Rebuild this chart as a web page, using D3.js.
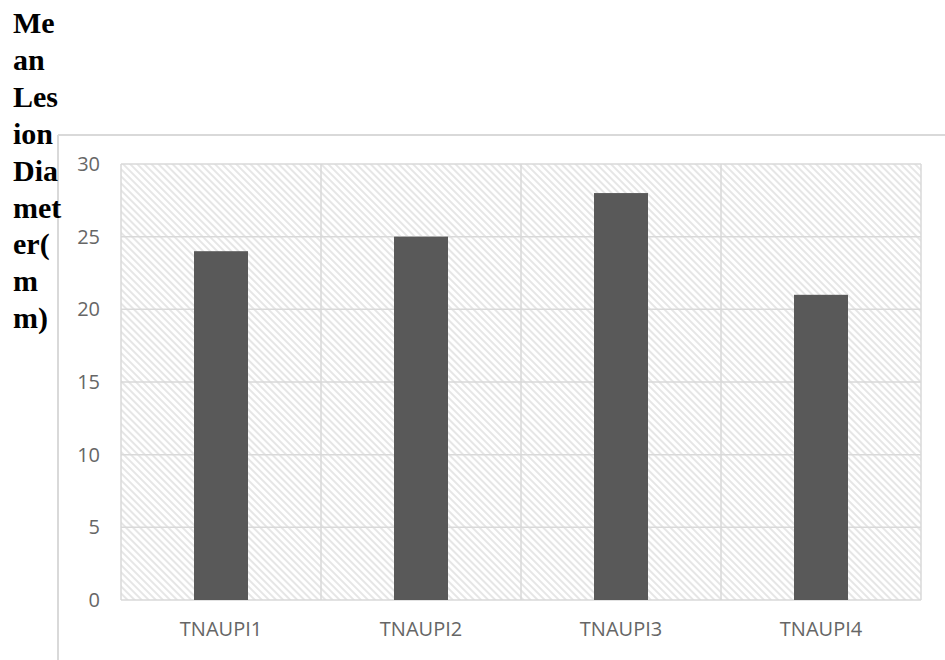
<!DOCTYPE html>
<html>
<head>
<meta charset="utf-8">
<script src="https://cdn.jsdelivr.net/npm/d3@7/dist/d3.min.js"></script>
<style>
  html, body { margin: 0; padding: 0; background: #fff; }
  svg { display: block; }
</style>
</head>
<body>
<script>
// Mean lesion diameter per isolate
const categories = ["TNAUPI1", "TNAUPI2", "TNAUPI3", "TNAUPI4"];
const meanDiameter = [24, 25, 28, 21];
const yTicks = [0, 5, 10, 15, 20, 25, 30];
const titleLines = ["Me", "an", "Les", "ion", "Dia", "met", "er(", "m", "m)"];

const W = 945, H = 660;
const plot = { left: 121, right: 921, top: 164, bottom: 600 };

const svg = d3.select("body").append("svg")
  .attr("width", W).attr("height", H);

// Diagonal hatch fill for the plot background
const defs = svg.append("defs");
const pat = defs.append("pattern")
  .attr("id", "hatch")
  .attr("patternUnits", "userSpaceOnUse")
  .attr("width", 5).attr("height", 5)
  .attr("patternTransform", "rotate(-45)");
pat.append("rect").attr("width", 5).attr("height", 5).attr("fill", "#ffffff");
pat.append("rect").attr("width", 2).attr("height", 5).attr("fill", "#e6e6e6");

// Chart frame (top and left edges)
svg.append("line")
  .attr("x1", 58).attr("x2", W).attr("y1", 135).attr("y2", 135)
  .attr("stroke", "#d9d9d9").attr("stroke-width", 2);
svg.append("line")
  .attr("x1", 58).attr("x2", 58).attr("y1", 135).attr("y2", H)
  .attr("stroke", "#d9d9d9").attr("stroke-width", 2);

const x = d3.scaleBand().domain(categories)
  .range([plot.left, plot.right]).paddingInner(0).paddingOuter(0);
const y = d3.scaleLinear().domain([0, 30]).range([plot.bottom, plot.top]);

svg.append("rect")
  .attr("x", plot.left).attr("y", plot.top)
  .attr("width", plot.right - plot.left).attr("height", plot.bottom - plot.top)
  .attr("fill", "url(#hatch)");

// Horizontal gridlines
svg.append("g").selectAll("line").data(yTicks).join("line")
  .attr("x1", plot.left).attr("x2", plot.right)
  .attr("y1", d => y(d)).attr("y2", d => y(d))
  .attr("stroke", "#d9d9d9").attr("stroke-width", 1.5);

// Vertical category separators
const seps = categories.map(c => x(c)).concat([plot.right]);
svg.append("g").selectAll("line").data(seps).join("line")
  .attr("x1", d => d).attr("x2", d => d)
  .attr("y1", plot.top).attr("y2", plot.bottom)
  .attr("stroke", "#d9d9d9").attr("stroke-width", 1.5);

// Bars
const barW = x.bandwidth() * 0.27;
svg.append("g").selectAll("rect").data(categories).join("rect")
  .attr("x", (d) => x(d) + x.bandwidth() / 2 - barW / 2)
  .attr("y", (d, i) => y(meanDiameter[i]))
  .attr("width", barW)
  .attr("height", (d, i) => y(0) - y(meanDiameter[i]))
  .attr("fill", "#595959");

// Y axis labels
const yAxis = d3.axisLeft(y).tickValues(yTicks).tickSize(0).tickPadding(21);
const gy = svg.append("g").attr("transform", `translate(${plot.left},0)`).call(yAxis);
gy.select(".domain").remove();
gy.selectAll("text")
  .attr("fill", "#666666")
  .style("font-family", "'Open Sans', sans-serif")
  .style("font-size", "20px");

// X axis labels
const xAxis = d3.axisBottom(x).tickSize(0).tickPadding(22);
const gx = svg.append("g").attr("transform", `translate(0,${plot.bottom})`).call(xAxis);
gx.select(".domain").remove();
gx.selectAll("text")
  .attr("fill", "#666666")
  .style("font-family", "'Open Sans', sans-serif")
  .style("font-size", "20px");

// Wrapped y-axis title
svg.append("g").selectAll("text").data(titleLines).join("text")
  .attr("x", 13)
  .attr("y", (d, i) => 33 + i * 36.9)
  .attr("fill", "#000")
  .style("font-family", "'Liberation Serif', 'Times New Roman', serif")
  .style("font-weight", "bold")
  .style("font-size", "30px")
  .text(d => d);
</script>
</body>
</html>
